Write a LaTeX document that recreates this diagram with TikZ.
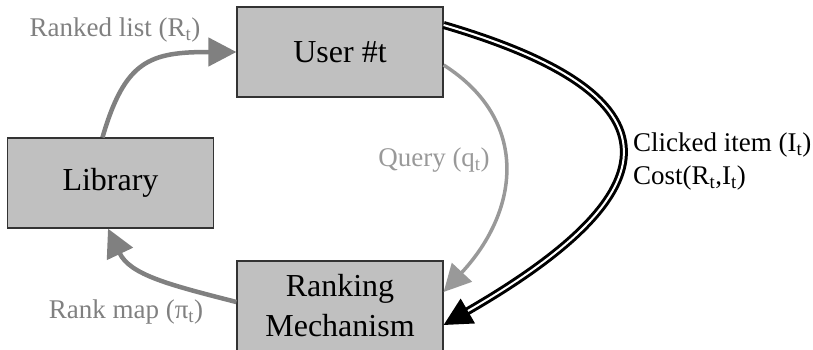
\documentclass[tikz,border=0pt]{standalone}
\usepackage{fontspec}
\setmainfont{Liberation Serif}
\usetikzlibrary{arrows.meta}
\definecolor{boxfill}{HTML}{C0C0C0}
\definecolor{arrgray}{HTML}{808080}
\definecolor{qgray}{HTML}{999999}
\tikzset{
  box/.style={draw=black!80, line width=1.2pt, fill=boxfill, minimum width=206pt, minimum height=90pt, inner sep=0pt, align=center, font=\fontsize{32}{40}\selectfont},
  garrow/.style={draw=arrgray, line width=4.5pt, -{Triangle[length=28pt,width=28pt]}},
  qarrow/.style={draw=qgray, line width=3.5pt, -{Triangle[length=27pt,width=27pt]}},
  barrow/.style={draw=black, double=white, double distance=2pt, line width=3pt, -{Triangle[length=28pt,width=28pt]}},
  lbl/.style={font=\fontsize{27}{32}\selectfont, inner sep=0pt},
}
\begin{document}
\begin{tikzpicture}[x=1pt,y=-1pt]
\useasboundingbox (0,0) rectangle (813,350);
\node[box] (user) at (340,52) {User \#t};
\node[box] (lib) at (110.5,183) {Library};
\node[box] (rank) at (340,306) {Ranking\\Mechanism};

\draw[garrow] ([xshift=-8pt]lib.north) .. controls (125,60) and (150,52) .. (user.west);
\draw[qarrow] ([yshift=-13pt]user.east) .. controls (530,120) and (520,210) .. ([yshift=14pt]rank.east);
\draw[garrow] ([yshift=4pt]rank.west) .. controls (170,285) and (130,275) .. ([xshift=-2.5pt]lib.south);
\draw[barrow] ([yshift=27pt]user.east) .. controls (700,100) and (660,200) .. ([yshift=-19pt]rank.east);

\node[lbl, text=arrgray] (l1) at (115,30) {Ranked list (R\textsubscript{t})};
\node[lbl, text=qgray] (l2) at (434,160) {Query (q\textsubscript{t})};
\node[lbl, text=arrgray] (l3) at (126,312) {Rank map (π\textsubscript{t})};
\node[lbl, anchor=west] (l4) at (633,145) {Clicked item (I\textsubscript{t})};
\node[lbl, anchor=west] (l5) at (633,178) {Cost(R\textsubscript{t},I\textsubscript{t})};
\end{tikzpicture}
\end{document}
